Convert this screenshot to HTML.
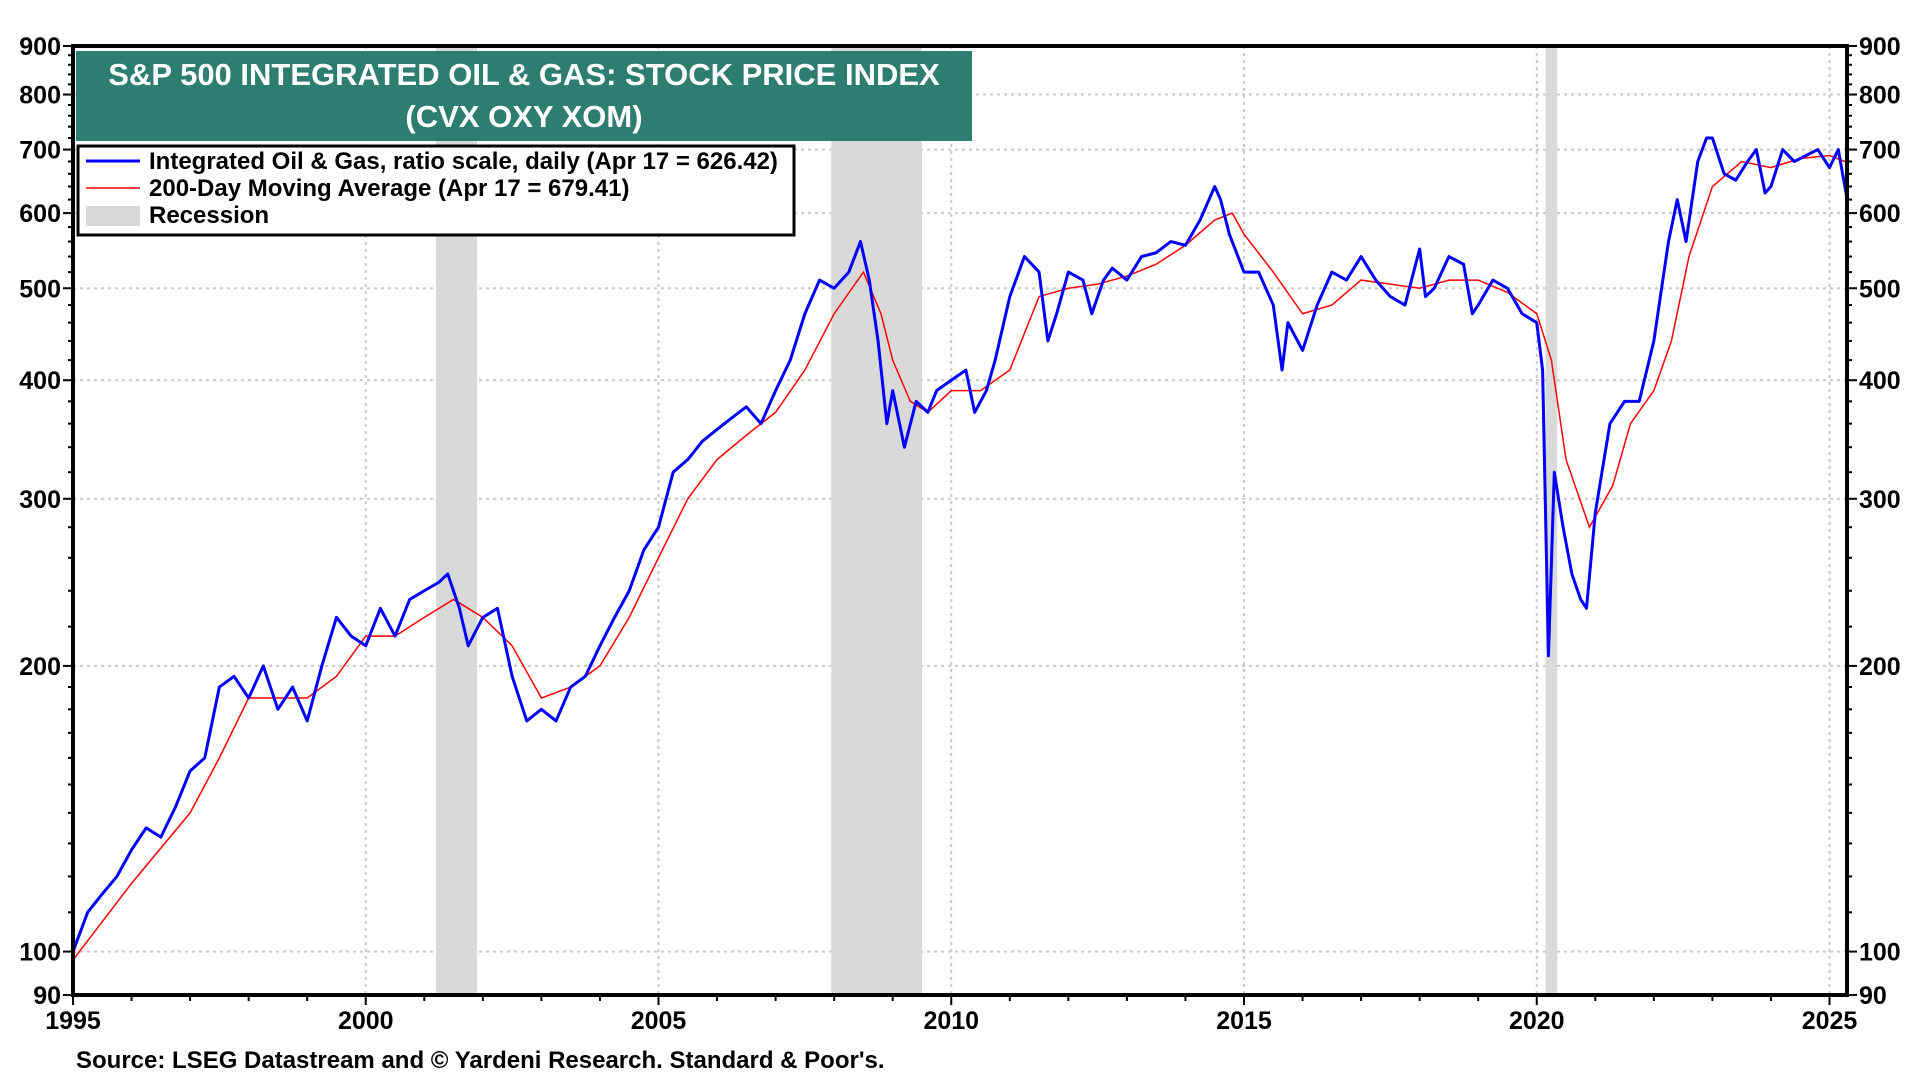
<!DOCTYPE html>
<html><head><meta charset="utf-8">
<style>
body{margin:0;background:#fff;width:1920px;height:1080px;overflow:hidden;font-family:"Liberation Sans",Arial,sans-serif}
svg{display:block}
text{font-family:"Liberation Sans",Arial,sans-serif;font-weight:bold}
</style></head><body>
<svg id="chart" width="1920" height="1080" viewBox="0 0 1920 1080">
<g id="grid"></g>
<g id="rec"></g>
<g id="series"></g>
<g id="axes"></g>
<g>
<rect x="76" y="51" width="896" height="90" fill="#2e7d71"/>
<text x="524" y="85" font-size="31" fill="#fff" text-anchor="middle">S&amp;P 500 INTEGRATED OIL &amp; GAS: STOCK PRICE INDEX</text>
<text x="524" y="127" font-size="31" fill="#fff" text-anchor="middle">(CVX OXY XOM)</text>
</g>
<g>
<rect x="78" y="146" width="716" height="89" fill="#fff" stroke="#000" stroke-width="3"/>
<line x1="86" y1="161" x2="140" y2="161" stroke="#0000ff" stroke-width="3"/>
<text x="149" y="169" font-size="24">Integrated Oil &amp; Gas, ratio scale, daily (Apr 17 = 626.42)</text>
<line x1="86" y1="188" x2="140" y2="188" stroke="#ff0000" stroke-width="1.5"/>
<text x="149" y="196" font-size="24">200-Day Moving Average (Apr 17 = 679.41)</text>
<rect x="86" y="206" width="54" height="20" fill="#d9d9d9"/>
<text x="149" y="223" font-size="24">Recession</text>
</g>
<text x="76" y="1068" font-size="24">Source: LSEG Datastream and © Yardeni Research. Standard &amp; Poor's.</text>
</svg>
<script>
const yearsT=[1995.0,1995.25,1995.5,1995.75,1996.0,1996.25,1996.5,1996.75,1997.0,1997.25,1997.5,1997.75,1998.0,1998.25,1998.5,1998.75,1999.0,1999.25,1999.5,1999.75,2000.0,2000.25,2000.5,2000.75,2001.0,2001.25,2001.4,2001.6,2001.75,2002.0,2002.25,2002.5,2002.75,2003.0,2003.25,2003.5,2003.75,2004.0,2004.25,2004.5,2004.75,2005.0,2005.25,2005.5,2005.75,2006.0,2006.25,2006.5,2006.75,2007.0,2007.25,2007.5,2007.75,2008.0,2008.25,2008.45,2008.6,2008.75,2008.9,2009.0,2009.2,2009.4,2009.6,2009.75,2010.0,2010.25,2010.4,2010.6,2010.75,2011.0,2011.25,2011.5,2011.65,2011.8,2012.0,2012.25,2012.4,2012.6,2012.75,2013.0,2013.25,2013.5,2013.75,2014.0,2014.25,2014.5,2014.6,2014.75,2015.0,2015.25,2015.5,2015.65,2015.75,2016.0,2016.25,2016.5,2016.75,2017.0,2017.25,2017.5,2017.75,2018.0,2018.1,2018.25,2018.5,2018.75,2018.9,2019.0,2019.25,2019.5,2019.75,2020.0,2020.1,2020.2,2020.3,2020.45,2020.6,2020.75,2020.85,2021.0,2021.25,2021.5,2021.75,2022.0,2022.25,2022.4,2022.55,2022.75,2022.9,2023.0,2023.2,2023.4,2023.6,2023.75,2023.9,2024.0,2024.2,2024.4,2024.6,2024.8,2025.0,2025.15,2025.29];
const indexVals=[100,110,115,120,128,135,132,142,155,160,190,195,185,200,180,190,175,200,225,215,210,230,215,235,240,245,250,230,210,225,230,195,175,180,175,190,195,210,225,240,265,280,320,330,345,355,365,375,360,390,420,470,510,500,520,560,510,440,360,390,340,380,370,390,400,410,370,390,420,490,540,520,440,470,520,510,470,510,525,510,540,545,560,555,590,640,620,570,520,520,480,410,460,430,480,520,510,540,510,490,480,550,490,500,540,530,470,480,510,500,470,460,410,205,320,280,250,235,230,290,360,380,380,440,560,620,560,680,720,720,660,650,680,700,630,640,700,680,690,700,670,700,626];
const maT=[1995,1996,1997,1997.5,1998,1998.5,1999,1999.5,2000,2000.5,2001,2001.5,2002,2002.5,2003,2003.5,2004,2004.5,2005,2005.5,2006,2006.5,2007,2007.5,2008,2008.5,2008.8,2009,2009.3,2009.6,2010,2010.5,2011,2011.5,2012,2012.5,2013,2013.5,2014,2014.5,2014.8,2015,2015.5,2016,2016.5,2017,2017.5,2018,2018.5,2019,2019.5,2020,2020.25,2020.5,2020.9,2021.3,2021.6,2022,2022.3,2022.6,2023,2023.5,2024,2024.5,2025,2025.29];
const maVals=[98,118,140,160,185,185,185,195,215,215,225,235,225,210,185,190,200,225,260,300,330,350,370,410,470,520,470,420,380,370,390,390,410,490,500,505,515,530,555,590,600,570,520,470,480,510,505,500,510,510,495,470,420,330,280,310,360,390,440,540,640,680,670,685,690,679];
const yTicks=[100,200,300,400,500,600,700,800,900];
const yTickLabels=["100","200","300","400","500","600","700","800","900"];
const xTickYears=[1995,2000,2005,2010,2015,2020,2025];
const recStart=[2001.2,2007.95,2020.15];
const recEnd=[2001.9,2009.5,2020.35];

const NS="http://www.w3.org/2000/svg";
const L=73,R=1847,T=46,B=995;
const FS=25;
const X=t=>L+(t-1995)*58.55;
const Y=v=>B-(B-T)*Math.log10(v/90);
function mk(tag,attrs,parent){const e=document.createElementNS(NS,tag);for(const k in attrs)e.setAttribute(k,attrs[k]);parent.appendChild(e);return e;}
const grid=document.getElementById('grid'),axes=document.getElementById('axes'),rec=document.getElementById('rec'),ser=document.getElementById('series');
yTicks.forEach((v,i)=>{
  const g=mk('line',{x1:L,x2:R,y1:Y(v),y2:Y(v),stroke:'#c8c8c8','stroke-width':2,'stroke-dasharray':'3 4'},grid);
  
  
  const tl=mk('text',{x:L-12,y:Y(v)+9,'font-size':FS,'text-anchor':'end'},axes);tl.textContent=yTickLabels[i];
  
  
  const tr=mk('text',{x:R+12,y:Y(v)+9,'font-size':FS},axes);tr.textContent=yTickLabels[i];
  
  
});
[90].forEach(v=>{
  const a=mk('text',{x:L-12,y:Y(v)+9,'font-size':FS,'text-anchor':'end'},axes);a.textContent="90";
  
  
  const b=mk('text',{x:R+12,y:Y(v)+9,'font-size':FS},axes);b.textContent="90";
  
  
});
for(let v=90;v<=900;v+=(v<200?10:20)){
  const big=yTicks.includes(v)||v===90;
  mk('line',{x1:L-(big?10:5),x2:L,y1:Y(v),y2:Y(v),stroke:'#000','stroke-width':2},axes);
  mk('line',{x1:R,x2:R+(big?10:5),y1:Y(v),y2:Y(v),stroke:'#000','stroke-width':2},axes);
}
xTickYears.forEach(yr=>{
  if(yr>1995){const g=mk('line',{x1:X(yr),x2:X(yr),y1:T,y2:B,stroke:'#c8c8c8','stroke-width':2,'stroke-dasharray':'3 4'},grid);
  
  }
  const t=mk('text',{x:X(yr),y:B+34,'font-size':FS,'text-anchor':'middle'},axes);t.textContent=String(yr);
  
  
});
for(let yr=1995;yr<=2025;yr++){mk('line',{x1:X(yr),x2:X(yr),y1:B,y2:B+(yr%5===0?10:6),stroke:'#000','stroke-width':2},axes);}
recStart.forEach((s,i)=>{
  const r=mk('rect',{x:X(s),y:T,width:X(recEnd[i])-X(s),height:B-T,fill:'#d9d9d9'},rec);
  
  
});
const ma=mk('polyline',{points:maT.map((t,i)=>X(t)+','+Y(maVals[i])).join(' '),fill:'none',stroke:'#ff0000','stroke-width':1.5},ser);


const ix=mk('polyline',{points:yearsT.map((t,i)=>X(t)+','+Y(indexVals[i])).join(' '),fill:'none',stroke:'#0000ff','stroke-width':3,'stroke-linejoin':'round'},ser);


const fr=mk('rect',{x:L,y:T,width:R-L,height:B-T,fill:'none',stroke:'#000','stroke-width':4},axes);


</script>
</body></html>
